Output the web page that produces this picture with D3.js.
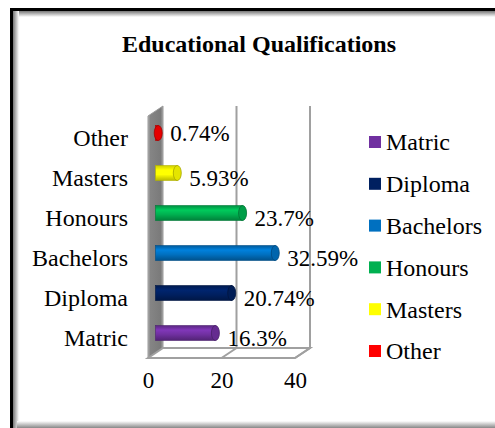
<!DOCTYPE html>
<html><head><meta charset="utf-8">
<script src="https://cdn.jsdelivr.net/npm/d3@7"></script>
<style>body{margin:0;background:#fff}svg{display:block}</style>
</head><body><svg id="c" width="495" height="428"></svg>
<script>
const categories = ["Matric","Diploma","Bachelors","Honours","Masters","Other"];
const values = [16.3, 20.74, 32.59, 23.7, 5.93, 0.74];
const valueLabels = ["16.3%","20.74%","32.59%","23.7%","5.93%","0.74%"];
const colors = ["#7030A0","#002060","#0070C0","#00B050","#FFFF00","#FF0000"];
const xTicks = [0,20,40];
const title = "Educational Qualifications";

(function(){
const FONT = "'Liberation Serif', 'Times New Roman', serif";
const svg = d3.select("#c").attr("font-family", FONT);
const defs = svg.append("defs");

// frame
const fg = defs.append("linearGradient").attr("id","shL").attr("x1",0).attr("x2",1).attr("y1",0).attr("y2",0);
fg.append("stop").attr("offset",0).attr("stop-color","#777");
fg.append("stop").attr("offset",1).attr("stop-color","#fff");
const fgt = defs.append("linearGradient").attr("id","shT").attr("x1",0).attr("x2",0).attr("y1",0).attr("y2",1);
fgt.append("stop").attr("offset",0).attr("stop-color","#777");
fgt.append("stop").attr("offset",1).attr("stop-color","#fff");
const fgb = defs.append("linearGradient").attr("id","shB").attr("x1",0).attr("x2",0).attr("y1",0).attr("y2",1);
fgb.append("stop").attr("offset",0).attr("stop-color","#fff");
fgb.append("stop").attr("offset",1).attr("stop-color","#888");
svg.append("rect").attr("x",13).attr("y",11).attr("width",490).attr("height",6).attr("fill","url(#shT)");
svg.append("rect").attr("x",13).attr("y",11).attr("width",6).attr("height",420).attr("fill","url(#shL)");
svg.append("rect").attr("x",17).attr("y",421).attr("width",480).attr("height",7).attr("fill","url(#shB)");
svg.append("line").attr("x1",11).attr("x2",495).attr("y1",9.5).attr("y2",9.5).attr("stroke","#000").attr("stroke-width",3);
svg.append("line").attr("x1",11.5).attr("x2",11.5).attr("y1",8).attr("y2",428).attr("stroke","#000").attr("stroke-width",3);

svg.append("text").attr("x",259).attr("y",52).attr("text-anchor","middle").attr("font-family",FONT)
  .attr("font-size",24).attr("font-weight","bold").text(title);

const x = d3.scaleLinear().domain([0,40]).range([148,295]);
const y = d3.scaleBand().domain(categories.slice().reverse()).range([118,358]);
const dx = 15, dy = -10;
const pTop = 116, pBottom = 358;

// back wall
svg.append("rect").attr("x",x(0)+dx).attr("y",pTop+dy).attr("width",x(40)-x(0)).attr("height",pBottom-pTop)
  .attr("fill","#fff");
// side wall
const wg = defs.append("linearGradient").attr("id","wall").attr("x1",0).attr("x2",1).attr("y1",0).attr("y2",0);
wg.append("stop").attr("offset",0).attr("stop-color","#b0b0b0");
wg.append("stop").attr("offset",0.15).attr("stop-color","#858585");
wg.append("stop").attr("offset",0.85).attr("stop-color","#7a7a7a");
wg.append("stop").attr("offset",1).attr("stop-color","#a8a8a8");
svg.append("path").attr("d",`M${x(0)},${pTop}L${x(0)+dx},${pTop+dy}L${x(0)+dx},${pBottom+dy}L${x(0)},${pBottom}Z`)
  .attr("fill","url(#wall)").attr("stroke","#9a9a9a").attr("stroke-width",1);
// floor
svg.append("path").attr("d",`M${x(0)},${pBottom}L${x(0)+dx},${pBottom+dy}L${x(40)+dx},${pBottom+dy}L${x(40)},${pBottom}Z`)
  .attr("fill","#fff").attr("stroke","#a0a0a0").attr("stroke-width",2);
// gridlines
xTicks.filter(t=>t>0).forEach(t=>{
  svg.append("path").attr("d",`M${x(t)+dx},${pTop+dy}L${x(t)+dx},${pBottom+dy}L${x(t)},${pBottom}`)
    .attr("fill","none").attr("stroke","#a0a0a0").attr("stroke-width",2);
});

// bars
categories.forEach((c,i)=>{
  const col = d3.color(colors[i]);
  const g = defs.append("linearGradient").attr("id","b"+i).attr("x1",0).attr("x2",0).attr("y1",0).attr("y2",1);
  g.append("stop").attr("offset",0).attr("stop-color",col.darker(0.6));
  g.append("stop").attr("offset",0.3).attr("stop-color",col.brighter(0.4));
  g.append("stop").attr("offset",0.6).attr("stop-color",col);
  g.append("stop").attr("offset",1).attr("stop-color",col.darker(0.9));
  const cy = y(c)+y.bandwidth()/2 + dy/2;
  const x0 = x(0)+dx/2, x1 = x(values[i])+dx/2;
  const h = 15, rx = 4;
  svg.append("rect").attr("x",x0).attr("y",cy-h/2).attr("width",Math.max(x1-x0,0.5)).attr("height",h)
    .attr("fill",`url(#b${i})`).attr("stroke",col.darker(1)).attr("stroke-width",0.6);
  svg.append("ellipse").attr("cx",x1).attr("cy",cy).attr("rx",rx).attr("ry",h/2)
    .attr("fill",col.darker(0.3)).attr("stroke",col.darker(1.2)).attr("stroke-width",0.8);
  svg.append("text").attr("x",x1+12).attr("y",y(c)+y.bandwidth()/2+(i===5?-5:0)).attr("dy","0.35em")
    .attr("font-family",FONT).attr("font-size",23).text(valueLabels[i]);
  svg.append("text").attr("x",128).attr("y",y(c)+y.bandwidth()/2).attr("dy","0.35em")
    .attr("text-anchor","end").attr("font-family",FONT).attr("font-size",24).text(c);
});

// x axis
const ax = svg.append("g").attr("transform",`translate(0,${pBottom+14})`)
  .call(d3.axisBottom(x).tickValues(xTicks).tickSize(0).tickPadding(0));
ax.select(".domain").remove();
ax.selectAll("text").attr("font-size",23).attr("font-family",FONT).attr("fill","#000").attr("dy","0.71em");

// legend
const lg = svg.append("g");
categories.forEach((c,i)=>{
  const ly = 142 + i*41.8;
  lg.append("rect").attr("x",369).attr("y",ly-6).attr("width",12).attr("height",12).attr("fill",colors[i]);
  lg.append("text").attr("x",386).attr("y",ly).attr("dy","0.35em").attr("font-family",FONT).attr("font-size",24).text(c);
});
})();
</script></body></html>
